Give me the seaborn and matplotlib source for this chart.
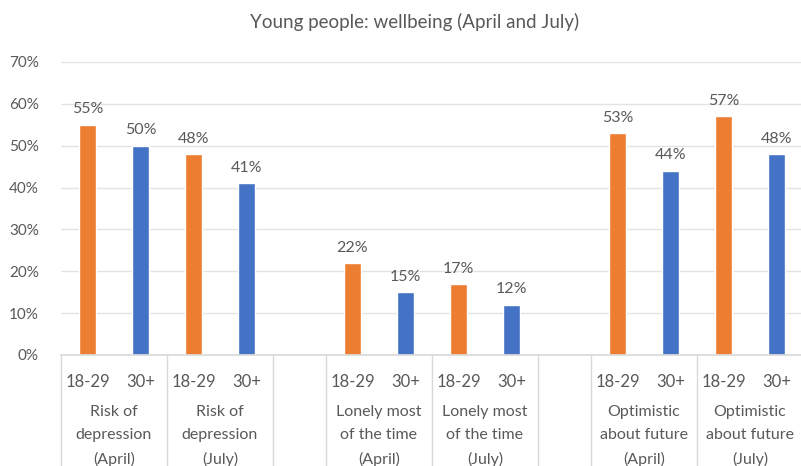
import matplotlib
matplotlib.use("Agg")
import matplotlib.pyplot as plt
import matplotlib.transforms as mtransforms
import seaborn as sns
import pandas as pd

# ---- data ----
groups = ["Risk of\ndepression\n(April)", "Risk of\ndepression\n(July)",
          "Lonely most\nof the time\n(April)", "Lonely most\nof the time\n(July)",
          "Optimistic\nabout future\n(April)", "Optimistic\nabout future\n(July)"]
ages = ["18-29", "30+"]
young = [0.55, 0.48, 0.22, 0.17, 0.53, 0.57]
older = [0.50, 0.41, 0.15, 0.12, 0.44, 0.48]
title = "Young people: wellbeing (April and July)"
yticks = [0, 0.1, 0.2, 0.3, 0.4, 0.5, 0.6, 0.7]

# layout of slots (gap slots between pairs of groups)
layout = [0, 1, None, 2, 3, None, 4, 5]

rows = []
order = []
tick_labels = []
group_spans = []
gap_i = 0
for g in layout:
    if g is None:
        key = f"gap{gap_i}"
        gap_i += 1
        order.append(key)
        tick_labels.append("")
        group_spans.append(None)
        continue
    start = len(order)
    for a, vals in zip(ages, [young, older]):
        key = f"{g}_{a}"
        order.append(key)
        tick_labels.append(a)
        rows.append({"slot": key, "age": a, "value": vals[g]})
    group_spans.append((start, g))

df = pd.DataFrame(rows)

sns.set_theme(style="white")
plt.rcParams["font.family"] = ["Lato", "DejaVu Sans"]

text_c = "#595959"
fig = plt.figure(figsize=(8.01, 4.66), dpi=100)
ax = fig.add_axes([61/801, 1-355/466, 742/801, (355-62)/466])

sns.barplot(data=df, x="slot", y="value", hue="age", order=order,
            hue_order=ages, palette={"18-29": "#ED7D31", "30+": "#4472C4"},
            dodge=False, width=0.32, saturation=1, ax=ax, legend=False)

ax.set_xlim(-0.5, len(order) - 0.5)
ax.set_ylim(0, 0.7)
ax.set_yticks(yticks)
ax.set_yticklabels([f"{int(round(t*100))}%" for t in yticks], color=text_c, fontsize=11)
ax.grid(axis="y", color="#E3E3E3", linewidth=1)
ax.set_axisbelow(True)
for s in ["top", "right", "left"]:
    ax.spines[s].set_visible(False)
ax.spines["bottom"].set_color("#D9D9D9")
ax.tick_params(axis="y", length=0, pad=16)
ax.tick_params(axis="x", length=0, pad=14)
ax.set_xticks(range(len(order)))
ax.set_xticklabels(tick_labels, color=text_c, fontsize=12)
ax.set_xlabel("")
ax.set_ylabel("")

# value labels
for cont in ax.containers:
    labels = [f"{int(round(b.get_height()*100))}%" if b.get_height() > 0 else "" for b in cont]
    ax.bar_label(cont, labels=labels, padding=6, color=text_c, fontsize=11.5)

# group labels and separators
trans = mtransforms.blended_transform_factory(ax.transData, ax.transAxes)
bottom = -(466-355)/(355-62) - 0.05
boundaries = set()
for span in group_spans:
    if span is None:
        continue
    start, g = span
    ax.text(start + 0.5, -0.172, groups[g], transform=trans, ha="center", va="top",
            fontsize=11.5, color=text_c, linespacing=1.8)
    boundaries.add(start - 0.5)
    boundaries.add(start + 1.5)
for b in sorted(boundaries):
    ax.plot([b, b], [0, bottom], transform=trans, color="#D9D9D9", lw=1, clip_on=False)

fig.text(415/801, 1-22/466, title, ha="center", va="center", fontsize=13.5, color=text_c)

fig.savefig("out.png", dpi=100)
